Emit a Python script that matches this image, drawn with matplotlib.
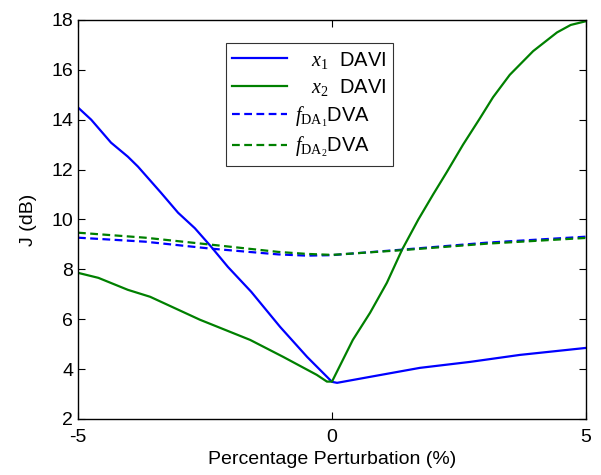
import numpy as np
import matplotlib
matplotlib.use('Agg')
import matplotlib.pyplot as plt

plt.rcParams['font.family'] = ['Liberation Sans', 'DejaVu Sans']
plt.rcParams['mathtext.fontset'] = 'custom'
plt.rcParams['mathtext.rm'] = 'Liberation Serif'
plt.rcParams['mathtext.it'] = 'Liberation Serif:italic'
plt.rcParams['axes.unicode_minus'] = False

# x1 DAVI (blue solid)
x1_p = [-5.0, -4.74, -4.35, -4.02, -3.82, -3.37, -3.03, -2.7, -2.38, -2.05, -1.59, -1.02, -0.49, 0.0,
        0.1, 0.75, 1.73, 2.72, 3.7, 5.0]
x1_j = [14.49, 14.0, 13.08, 12.52, 12.12, 11.08, 10.27, 9.65, 8.91, 8.1, 7.1, 5.69, 4.49, 3.49,
        3.45, 3.69, 4.05, 4.29, 4.57, 4.85]

# x2 DAVI (green solid)
x2_p = [-5.0, -4.6, -4.02, -3.58, -2.6, -1.61, -0.96, -0.3, -0.1, 0.0,
        0.41, 0.75, 1.08, 1.38, 1.7, 1.99, 2.26, 2.58, 2.91, 3.17, 3.5, 3.96, 4.43, 4.7, 5.0]
x2_j = [7.86, 7.66, 7.18, 6.9, 5.98, 5.17, 4.49, 3.77, 3.5, 3.5,
        5.17, 6.26, 7.46, 8.79, 10.0, 11.0, 11.9, 13.0, 14.05, 14.9, 15.8, 16.75, 17.5, 17.8, 17.95]

# f_DA1 DVA (blue dashed)
f1_p = [-5.0, -3.68, -2.38, -1.06, -0.5, 0.0, 1.38, 3.05, 5.0]
f1_j = [9.27, 9.11, 8.83, 8.6, 8.55, 8.57, 8.79, 9.07, 9.31]

# f_DA2 DVA (green dashed)
f2_p = [-5.0, -3.68, -2.38, -1.06, -0.5, 0.0, 1.38, 3.05, 5.0]
f2_j = [9.47, 9.27, 8.99, 8.7, 8.62, 8.58, 8.77, 9.03, 9.26]

fig = plt.figure(figsize=(6.01, 4.75), dpi=100)
ax = fig.add_axes([0.1298, 0.1179, 0.8452, 0.8401])

blue = (0, 0, 1)
green = (0, 0.5, 0)
ax.plot(x1_p, x1_j, color=blue, lw=1.6, label='   $x_1$  DAVI')
ax.plot(x2_p, x2_j, color=green, lw=1.6, label='   $x_2$  DAVI')
ax.plot(f1_p, f1_j, color=blue, lw=1.6, ls=(0, (3.5, 2)), label=r'$f_{\mathrm{DA}_1}$DVA')
ax.plot(f2_p, f2_j, color=green, lw=1.6, ls=(0, (3.5, 2)), label=r'$f_{\mathrm{DA}_2}$DVA')

ax.set_xlim(-5, 5)
ax.set_ylim(2, 18)
ax.set_xticks([-5, 0, 5])
ax.set_yticks(np.arange(2, 19, 2))
ax.tick_params(direction='in', top=True, right=True, labelsize=14, length=5, width=0.8)
ax.tick_params(axis='x', pad=7)
for s in ax.spines.values():
    s.set_linewidth(1.0)

ax.set_xlabel('Percentage Perturbation (%)', fontsize=14, labelpad=4)
ax.set_ylabel('J (dB)', fontsize=14, labelpad=10)

leg = ax.legend(loc='upper left', bbox_to_anchor=(0.291, 0.942), borderaxespad=0,
                fontsize=14.5, frameon=True, fancybox=False, edgecolor='black',
                handlelength=2.7, borderpad=0.32, labelspacing=0.32, handletextpad=0.4)
leg.get_frame().set_linewidth(0.8)

fig.savefig('out.png', dpi=100)
